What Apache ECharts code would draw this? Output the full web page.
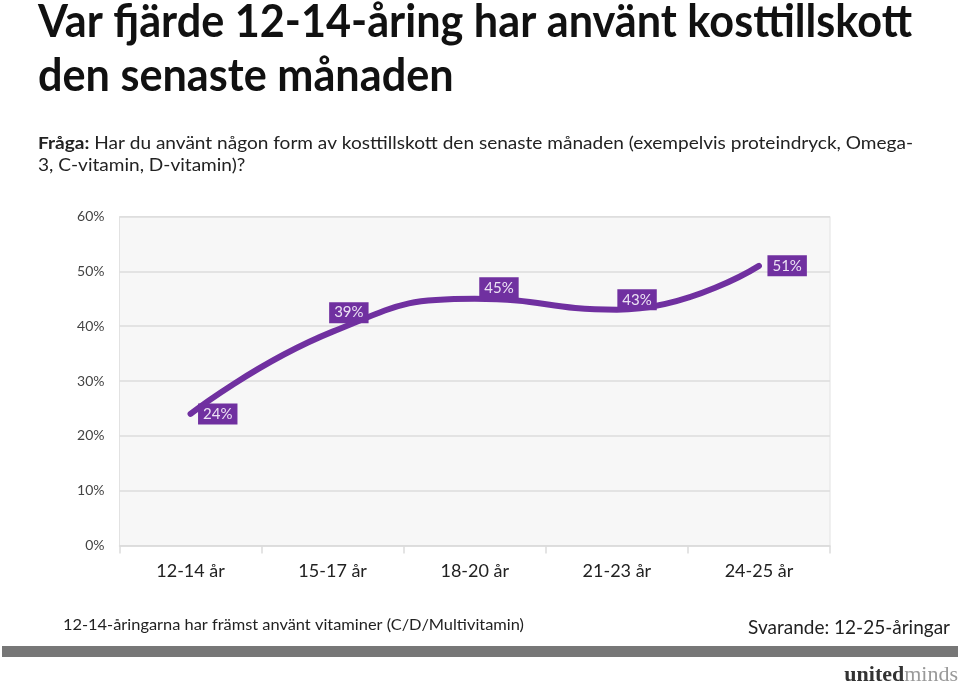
<!DOCTYPE html>
<html>
<head>
<meta charset="utf-8">
<script src="https://cdn.jsdelivr.net/npm/echarts@6/dist/echarts.min.js"></script>
<style>
html,body{margin:0;padding:0;background:#fff;}
#chart{width:960px;height:688px;}
</style>
</head>
<body>
<div id="chart"></div>
<script>
// ---- data ----
var categories = ['12-14 år', '15-17 år', '18-20 år', '21-23 år', '24-25 år'];
var values = [24, 39, 45, 43, 51];
var yTicks = [0, 10, 20, 30, 40, 50, 60];

// ---- texts ----
var titleLines = ['Var fjärde 12-14-åring har använt kosttillskott', 'den senaste månaden'];
var questionLead = 'Fråga:';
var questionLine1 = ' Har du använt någon form av kosttillskott den senaste månaden (exempelvis proteindryck, Omega-';
var questionLine2 = '3, C-vitamin, D-vitamin)?';
var noteText = '12-14-åringarna har främst använt vitaminer (C/D/Multivitamin)';
var respondentsText = 'Svarande: 12-25-åringar';

// ---- label placement (style) ----
var labelOffsets = [[7, 0], [-4, -19], [4, -11], [0, -10], [8, 0]];

var purple = '#7030a0';

// measure helper to condense text to the reference widths
var mctx = document.createElement('canvas').getContext('2d');
function measure(font, txt) { mctx.font = font; return mctx.measureText(txt).width; }

var titleFont = 'bold 46px Lato';
var titleScale = 874 / measure(titleFont, titleLines[0]);
var qBold = 'bold 17px Lato', qReg = '17px Lato';
var qWidth = measure(qBold, questionLead) + measure(qReg, questionLine1);
var qScale = 875 / qWidth;
var noteScale = 461 / measure('16px Lato', noteText);

var chart = echarts.init(document.getElementById('chart'), null, {renderer: 'canvas'});

var seriesData = values.map(function (v, i) {
  return { value: v, label: { offset: labelOffsets[i] } };
});

var option = {
  backgroundColor: '#ffffff',
  animation: false,
  grid: {
    left: 119.5, right: 130, top: 216.5, bottom: 142.5,
    show: true, backgroundColor: '#f7f7f7', borderColor: '#e2e2e2', borderWidth: 1
  },
  xAxis: {
    type: 'category',
    data: categories,
    boundaryGap: true,
    axisLine: { show: true, lineStyle: { color: '#dcdcdc', width: 1.5 } },
    axisTick: { show: true, length: 8, lineStyle: { color: '#dcdcdc', width: 1.5 } },
    axisLabel: { fontFamily: 'Lato, sans-serif', fontSize: 18, color: '#222', margin: 17 }
  },
  yAxis: {
    type: 'value',
    min: yTicks[0], max: yTicks[yTicks.length - 1], interval: 10,
    axisLine: { show: false },
    axisTick: { show: false },
    axisLabel: { formatter: '{value}%', fontFamily: 'Lato, sans-serif', fontSize: 14, color: '#444', margin: 15 },
    splitLine: { show: true, lineStyle: { color: '#dcdcdc', width: 1.5 } }
  },
  series: [{
    type: 'line',
    data: seriesData,
    smooth: 0.5,
    symbol: 'circle',
    symbolSize: 1,
    showSymbol: true,
    itemStyle: { color: purple },
    lineStyle: { color: purple, width: 6, cap: 'round' },
    label: {
      show: true,
      position: 'right',
      distance: 0,
      formatter: '{c}%',
      backgroundColor: purple,
      color: '#ece2f4',
      fontFamily: 'Lato, sans-serif',
      fontSize: 15,
      padding: [3, 5, 3, 5]
    }
  }],
  graphic: [{
    type: 'text', x: 38, y: -1, scaleX: titleScale,
    style: { text: titleLines[0], font: titleFont, fill: '#111', verticalAlign: 'top' }
  }, {
    type: 'text', x: 38, y: 53, scaleX: titleScale,
    style: { text: titleLines[1], font: titleFont, fill: '#111', verticalAlign: 'top' }
  }, {
    type: 'text', x: 38, y: 133, scaleX: qScale,
    style: {
      text: '{b|' + questionLead + '}{r|' + questionLine1 + '}\n{r|' + questionLine2 + '}',
      verticalAlign: 'top',
      rich: {
        b: { font: qBold, fill: '#222', lineHeight: 22 },
        r: { font: qReg, fill: '#222', lineHeight: 22 }
      }
    }
  }, {
    type: 'text', x: 63, y: 617, scaleX: noteScale,
    style: { text: noteText, font: '16px Lato, sans-serif', fill: '#222', verticalAlign: 'top' }
  }, {
    type: 'text', right: 10, top: 618,
    style: { text: respondentsText, font: '19px Lato, sans-serif', fill: '#222' }
  }, {
    type: 'rect', shape: { x: 2, y: 646, width: 956, height: 11 },
    style: { fill: '#777777' }
  }, {
    type: 'text', right: 2, top: 664,
    style: {
      text: '{u|united}{m|minds}',
      rich: {
        u: { font: 'bold 22px Liberation Serif, serif', fill: '#333' },
        m: { font: '22px Liberation Serif, serif', fill: '#999' }
      }
    }
  }]
};
chart.setOption(option);
</script>
</body>
</html>
